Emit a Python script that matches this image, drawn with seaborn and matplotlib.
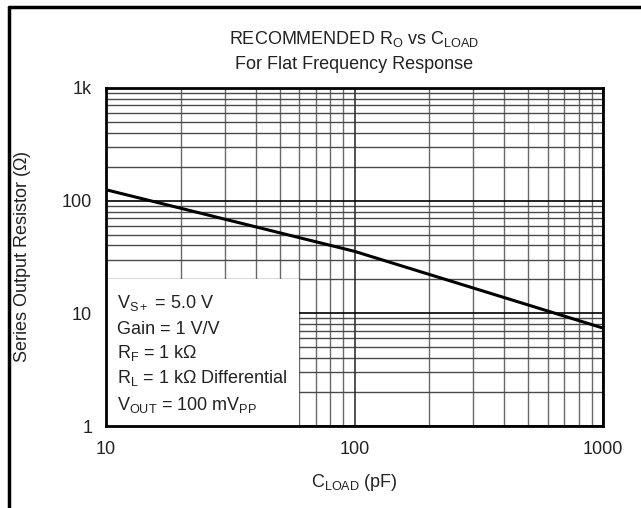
import matplotlib
matplotlib.use("Agg")
import matplotlib.pyplot as plt
import seaborn as sns
import pandas as pd
import numpy as np
from matplotlib.ticker import LogLocator, FixedLocator, FixedFormatter, NullFormatter
from matplotlib.patches import Rectangle

# ── Data ──────────────────────────────────────────────────────────────────────
c_load_pf = [10, 100, 1000]
r_out_ohm = [125, 35.5, 7.4]

x_ticks = [10, 100, 1000]
x_tick_labels = ["10", "100", "1000"]
y_ticks = [1, 10, 100, 1000]
y_tick_labels = ["1", "10", "100", "1k"]

conditions = [
    r"V$_{\rm S+}$ = 5.0 V",
    "Gain = 1 V/V",
    r"R$_{\rm F}$ = 1 k$\Omega$",
    r"R$_{\rm L}$ = 1 k$\Omega$ Differential",
    r"V$_{\rm OUT}$ = 100 mV$_{\rm PP}$",
]

FS = 13
INK = "#222222"

sns.set_style("white")
plt.rcParams["font.family"] = ["Liberation Sans", "DejaVu Sans"]
plt.rcParams["mathtext.fontset"] = "custom"
plt.rcParams["mathtext.rm"] = "Liberation Sans"
plt.rcParams["mathtext.it"] = "Liberation Sans:italic"
plt.rcParams["mathtext.bf"] = "Liberation Sans:bold"

df = pd.DataFrame({"C": c_load_pf, "R": r_out_ohm})

fig = plt.figure(figsize=(6.41, 5.08), dpi=100)
ax = fig.add_axes([0.1654, 0.1614, 0.7753, 0.6654])
ax.set_xscale("log")
ax.set_yscale("log")
ax.set_xlim(10, 1000)
ax.set_ylim(1, 1000)

# grid drawn by hand so the white condition box can sit over it but under ticks
minor = np.arange(2, 10)
for d in [10, 100]:
    for m in minor:
        ax.axvline(d * m, color="#6a6a6a", lw=1.0, zorder=0.8)
for d in [1, 10, 100]:
    for m in minor:
        ax.axhline(d * m, color="#4a4a4a", lw=1.0, zorder=0.8)
for v in x_ticks:
    ax.axvline(v, color="#333333", lw=1.2, zorder=0.9)
for v in y_ticks:
    ax.axhline(v, color="black", lw=1.2, zorder=0.9)

ax.add_patch(Rectangle((10, 1), 50, 19, facecolor="white", edgecolor="none", zorder=1))

sns.lineplot(data=df, x="C", y="R", color="black", lw=2.2, ax=ax, zorder=3)

ax.xaxis.set_major_locator(FixedLocator(x_ticks))
ax.xaxis.set_major_formatter(FixedFormatter(x_tick_labels))
ax.yaxis.set_major_locator(FixedLocator(y_ticks))
ax.yaxis.set_major_formatter(FixedFormatter(y_tick_labels))
ax.xaxis.set_minor_locator(LogLocator(base=10, subs=minor))
ax.yaxis.set_minor_locator(LogLocator(base=10, subs=minor))
ax.xaxis.set_minor_formatter(NullFormatter())
ax.yaxis.set_minor_formatter(NullFormatter())
ax.tick_params(axis="both", which="both", direction="in", color="black",
               labelsize=FS, labelcolor=INK)
ax.tick_params(axis="both", which="major", length=6, width=1.0)
ax.tick_params(axis="x", which="major", pad=11)
ax.tick_params(axis="y", which="major", pad=10)
ax.tick_params(axis="both", which="minor", length=4, width=0.8)

for s in ax.spines.values():
    s.set_color("black")
    s.set_linewidth(2.0)
    s.set_zorder(4)

ax.set_xlabel(r"C$_{\rm LOAD}$ (pF)", fontsize=FS, color=INK)
ax.set_ylabel(r"Series Output Resistor ($\Omega$)", fontsize=FS, color=INK)
ax.xaxis.set_label_coords(0.5, -0.166)
ax.xaxis.label.set_va("center")
ax.yaxis.set_label_coords(-0.169, 0.5)
ax.yaxis.label.set_va("center")

ax.text(0.5, 1.145, r"RECOMMENDED R$_{\rm O}$ vs C$_{\rm LOAD}$", transform=ax.transAxes,
        ha="center", va="center", fontsize=FS, color=INK)
ax.text(0.5, 1.07, "For Flat Frequency Response", transform=ax.transAxes,
        ha="center", va="center", fontsize=FS, color=INK)

line_y = [303, 329, 353, 378, 405]
for txt, py in zip(conditions, line_y):
    ax.text(0.022, (426 - py) / 338, txt, transform=ax.transAxes, ha="left",
            va="center", fontsize=FS, color=INK, zorder=5)

# outer frame (left and top edges visible in the reference)
fig.add_artist(plt.Line2D([0.0148, 0.0148], [0.0, 0.986], transform=fig.transFigure,
                          color="black", lw=2.5))
fig.add_artist(plt.Line2D([0.0148, 1.0], [0.986, 0.986], transform=fig.transFigure,
                          color="black", lw=2.5))

fig.savefig("out.png", dpi=100)
